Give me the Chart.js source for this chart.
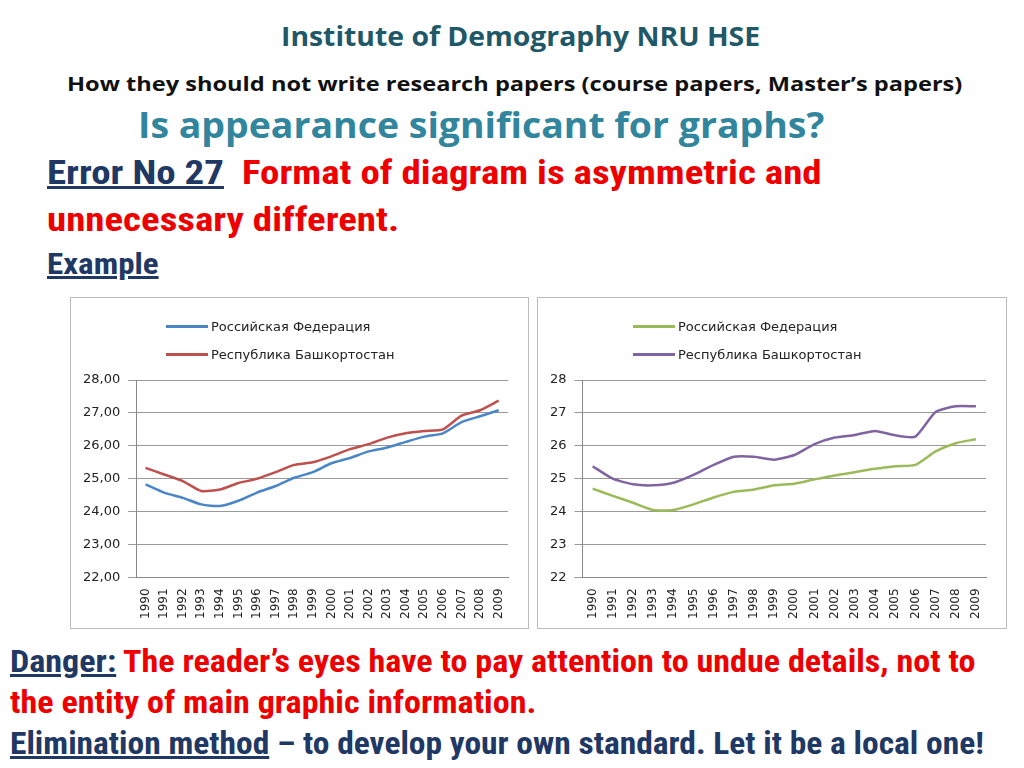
<!DOCTYPE html>
<html><head><meta charset="utf-8">
<script src="https://cdn.jsdelivr.net/npm/chart.js@4"></script>
<style>
body{margin:0;width:1024px;height:768px;background:#fff;font-family:"Open Sans",sans-serif;position:relative;overflow:hidden}
.t{position:absolute;white-space:nowrap;transform-origin:left top}
.n{font-family:"Liberation Sans Narrow","Roboto Condensed",sans-serif;font-weight:bold}
.box{position:absolute;border:1px solid #bbb;background:#fff}
.lg{position:absolute;left:95px;top:14px;font:13px "DejaVu Sans";color:#222}
.lg div{height:28px;display:flex;align-items:center}
.lg span{display:inline-block;width:42px;height:3px;margin-right:3px}
</style></head><body>
<div class="t" style="left:281px;top:18px;font-size:26px;font-weight:bold;color:#215868;transform:scaleX(1.09)">Institute of Demography NRU HSE</div>
<div class="t" style="left:67px;top:70px;font-size:20px;font-weight:bold;color:#111;transform:scaleX(1.18)">How they should not write research papers (course papers, Master’s papers)</div>
<div class="t" style="left:138px;top:100px;font-size:36px;font-weight:bold;color:#31859c;transform:scaleX(1.04)">Is appearance significant for graphs?</div>
<div class="t n" style="left:47px;top:152px;font-size:34px;color:#e00;transform:scaleX(1.145)"><span style="color:#1f3864;text-decoration:underline">Error No 27</span>&nbsp; Format of diagram is asymmetric and</div>
<div class="t n" style="left:47px;top:199px;font-size:34px;color:#e00;transform:scaleX(1.145)">unnecessary different.</div>
<div class="t n" style="left:47px;top:246px;font-size:30px;color:#1f3864;text-decoration:underline;transform:scaleX(1.1)">Example</div>
<div class="box" style="left:70px;top:297px;width:457px;height:330px"><canvas id="c1"></canvas><div class="lg" id="l1"></div></div>
<div class="box" style="left:537px;top:297px;width:468px;height:330px"><canvas id="c2"></canvas><div class="lg" id="l2"></div></div>
<div class="t n" style="left:10px;top:643px;font-size:31px;color:#e00;transform:scaleX(1.1)"><span style="color:#1f3864;text-decoration:underline">Danger:</span> The reader’s eyes have to pay attention to undue details, not to</div>
<div class="t n" style="left:10px;top:684px;font-size:31px;color:#e00;transform:scaleX(1.1)">the entity of main graphic information.</div>
<div class="t n" style="left:10px;top:725px;font-size:31px;color:#1f3864;transform:scaleX(1.08)"><span style="text-decoration:underline">Elimination method</span> – to develop your own standard. Let it be a local one!</div>
<script>
const years = ['1990','1991','1992','1993','1994','1995','1996','1997','1998','1999','2000','2001','2002','2003','2004','2005','2006','2007','2008','2009'];
const seriesNames = ['Российская Федерация', 'Республика Башкортостан'];
const rfLeft = [24.83,24.58,24.42,24.22,24.17,24.33,24.58,24.78,25.03,25.2,25.47,25.63,25.83,25.95,26.12,26.28,26.38,26.72,26.9,27.08];
const bashLeft = [25.33,25.13,24.93,24.63,24.67,24.87,25.0,25.2,25.42,25.5,25.68,25.9,26.05,26.25,26.38,26.45,26.5,26.92,27.08,27.37];
const rfRight = [24.7,24.48,24.27,24.05,24.05,24.22,24.43,24.6,24.67,24.8,24.85,24.98,25.1,25.2,25.3,25.38,25.42,25.83,26.08,26.2];
const bashRight = [25.38,25.0,24.83,24.8,24.88,25.12,25.42,25.67,25.67,25.58,25.72,26.05,26.25,26.33,26.45,26.32,26.28,27.03,27.2,27.2];

function makeChart(id, legId, a, b, colA, colB, decimals, w) {
    const cv = document.getElementById(id);
    cv.width = w; cv.height = 330;
    cv.style.width = w + 'px'; cv.style.height = '330px';
    const datasets = [
        { label: seriesNames[0], data: a, borderColor: colA },
        { label: seriesNames[1], data: b, borderColor: colB }
    ].map(d => Object.assign(d, { borderWidth: 2.5, pointRadius: 0, tension: 0.2, fill: false }));
    const leg = document.getElementById(legId);
    datasets.forEach(d => {
        leg.innerHTML += `<div><span style="background:${d.borderColor}"></span>${d.label}</div>`;
    });
    new Chart(cv, {
        type: 'line',
        data: { labels: years, datasets },
        options: {
            responsive: false, animation: false, devicePixelRatio: 1,
            layout: { padding: { top: 82, right: 20, left: 4, bottom: 6 } },
            plugins: { legend: { display: false }, tooltip: { enabled: false } },
            scales: {
                x: {
                    offset: true,
                    grid: { display: false, drawTicks: true },
                    border: { color: '#888' },
                    ticks: { minRotation: 90, maxRotation: 90, autoSkip: false, color: '#222', font: { family: 'DejaVu Sans', size: 12 } }
                },
                y: {
                    min: 22, max: 28,
                    grid: { color: '#999' },
                    border: { color: '#888' },
                    ticks: { stepSize: 1, color: '#222', padding: 8, font: { family: 'DejaVu Sans', size: 13 },
                        callback: v => v.toFixed(decimals).replace('.', ',') }
                }
            }
        }
    });
}

makeChart('c1', 'l1', rfLeft, bashLeft, '#4a86c5', '#c0504d', 2, 457);
makeChart('c2', 'l2', rfRight, bashRight, '#9bbb59', '#8064a2', 0, 468);
</script>
</body></html>
